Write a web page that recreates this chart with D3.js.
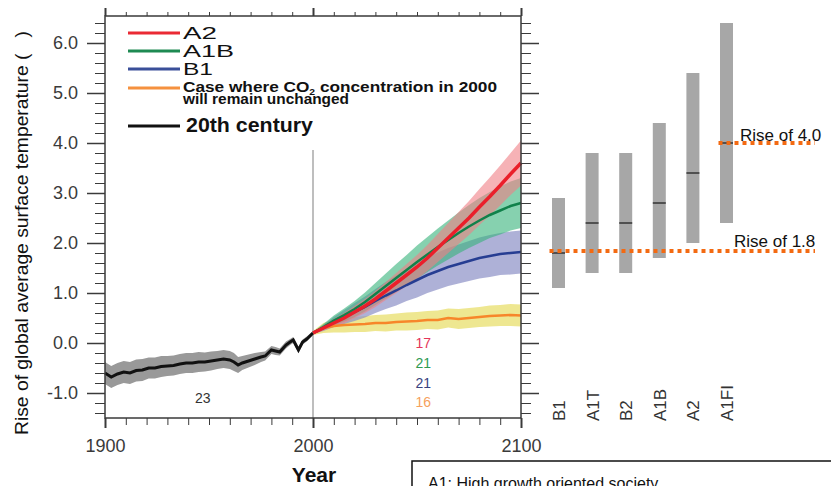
<!DOCTYPE html>
<html>
<head>
<meta charset="utf-8">
<script src="https://cdnjs.cloudflare.com/ajax/libs/d3/7.8.5/d3.min.js"></script>
<style>
  body { margin: 0; background: #fff; }
  svg { display: block; }
  text { font-family: "Liberation Sans", Arial, sans-serif; }
</style>
</head>
<body>
<div id="chart"></div>
<script>
// ---- data ----
var histYears  = [1900,1903,1906,1909,1912,1915,1918,1921,1924,1927,1930,1933,1936,1939,1942,1945,1948,1951,1954,1957,1960,1962,1964,1966,1969,1972,1975,1977,1980,1982,1984,1987,1989,1990.5,1992,1993,1995,1997,2000];
var histMean   = [-0.6,-0.68,-0.62,-0.58,-0.6,-0.55,-0.54,-0.5,-0.5,-0.47,-0.46,-0.45,-0.42,-0.4,-0.4,-0.38,-0.38,-0.36,-0.34,-0.32,-0.34,-0.38,-0.44,-0.4,-0.36,-0.32,-0.28,-0.26,-0.14,-0.16,-0.18,-0.04,0.02,0.06,-0.06,-0.14,0.02,0.08,0.2];
var histSpread = [0.22,0.22,0.22,0.22,0.22,0.22,0.22,0.21,0.21,0.21,0.2,0.2,0.2,0.2,0.2,0.2,0.19,0.19,0.18,0.18,0.18,0.18,0.16,0.14,0.13,0.12,0.1,0.09,0.08,0.08,0.07,0.07,0.06,0.06,0.06,0.06,0.05,0.05,0.04];

var projYears  = [2000,2005,2010,2015,2020,2025,2030,2035,2040,2045,2050,2055,2060,2065,2070,2075,2080,2085,2090,2095,2100];
var a2Mean     = [0.2,0.3,0.4,0.5,0.62,0.74,0.88,1.04,1.2,1.36,1.52,1.7,1.9,2.1,2.3,2.5,2.72,2.93,3.15,3.38,3.6];
var a2Spread   = [0.02,0.05,0.08,0.1,0.12,0.14,0.16,0.18,0.2,0.22,0.24,0.26,0.28,0.3,0.32,0.34,0.36,0.38,0.4,0.42,0.45];
var a1bMean    = [0.2,0.32,0.45,0.56,0.68,0.82,0.98,1.14,1.3,1.46,1.62,1.77,1.92,2.06,2.2,2.33,2.45,2.56,2.65,2.74,2.8];
var a1bSpread  = [0.02,0.06,0.1,0.13,0.16,0.19,0.22,0.25,0.28,0.3,0.33,0.35,0.37,0.39,0.41,0.43,0.45,0.46,0.48,0.49,0.5];
var b1Mean     = [0.2,0.3,0.42,0.52,0.62,0.72,0.84,0.95,1.05,1.16,1.26,1.36,1.44,1.52,1.58,1.64,1.7,1.74,1.78,1.8,1.82];
var b1Spread   = [0.02,0.06,0.1,0.14,0.18,0.21,0.24,0.27,0.3,0.32,0.35,0.36,0.37,0.38,0.39,0.4,0.41,0.42,0.42,0.43,0.43];
var constMean  = [0.2,0.3,0.34,0.36,0.37,0.38,0.4,0.4,0.42,0.43,0.44,0.46,0.46,0.5,0.48,0.5,0.52,0.54,0.55,0.56,0.55];
var constSpread= [0.04,0.1,0.13,0.15,0.15,0.16,0.16,0.17,0.17,0.18,0.18,0.18,0.19,0.19,0.2,0.2,0.2,0.21,0.21,0.22,0.22];

var modelCounts = ["17","21","21","16"];
var histCount = "23";

var scenarios  = ["B1","A1T","B2","A1B","A2","A1FI"];
var scenLow    = [1.1,1.4,1.4,1.7,2.0,2.4];
var scenHigh   = [2.9,3.8,3.8,4.4,5.4,6.4];
var scenBest   = [1.8,2.4,2.4,2.8,3.4,4.0];

var yMajor = [-1,0,1,2,3,4,5,6];
var yMinor = d3.range(-14, 65, 2).map(function(v){ return v/10; });
var xMajor = [1900,2000,2100];
var xMinor = d3.range(1900, 2101, 10);

// ---- setup ----
var W = 831, H = 486;
var svg = d3.select("#chart").append("svg").attr("width", W).attr("height", H);

var x = d3.scaleLinear().domain([1900, 2100]).range([105, 521]);
var y = d3.scaleLinear().domain([-1.5, 6.54]).range([418, 16]);
var xs = d3.scalePoint().domain(scenarios).range([558.5, 726.5]);

var axisColor = "#3a3a3a";

function styleAxis(g, w) {
  g.select(".domain").remove();
  g.selectAll(".tick line").attr("stroke", axisColor).attr("stroke-width", w);
  g.selectAll(".tick text").attr("fill", "#3a3a3a").style("font-size", "18px")
    .style("font-family", "'Liberation Sans', Arial, sans-serif");
}

// ---- bands ----
function band(years, mean, spread) {
  return d3.area()
    .x(function(d, i){ return x(years[i]); })
    .y0(function(d, i){ return y(mean[i] - spread[i]); })
    .y1(function(d, i){ return y(mean[i] + spread[i]); })(mean);
}
function line(years, mean) {
  return d3.line()
    .x(function(d, i){ return x(years[i]); })
    .y(function(d){ return y(d); })(mean);
}

svg.append("path").attr("d", band(histYears, histMean, histSpread)).attr("fill", "#999999");
svg.append("path").attr("d", band(projYears, constMean, constSpread)).attr("fill", "#e8df6c").attr("opacity", 0.75);
svg.append("path").attr("d", band(projYears, b1Mean, b1Spread)).attr("fill", "#8c90c6").attr("opacity", 0.7);
svg.append("path").attr("d", band(projYears, a1bMean, a1bSpread)).attr("fill", "#35b37a").attr("opacity", 0.6);
svg.append("path").attr("d", band(projYears, a2Mean, a2Spread)).attr("fill", "#f07f86").attr("opacity", 0.6);

// 2000 divider
svg.append("line")
  .attr("x1", x(2000)).attr("x2", x(2000))
  .attr("y1", 150).attr("y2", y(-1.5))
  .attr("stroke", "#a8a8a8").attr("stroke-width", 1.5);

// lines
svg.append("path").attr("d", line(histYears, histMean)).attr("fill", "none").attr("stroke", "#111").attr("stroke-width", 3);
svg.append("path").attr("d", line(projYears, constMean)).attr("fill", "none").attr("stroke", "#f7862a").attr("stroke-width", 2.5);
svg.append("path").attr("d", line(projYears, b1Mean)).attr("fill", "none").attr("stroke", "#263d92").attr("stroke-width", 2.5);
svg.append("path").attr("d", line(projYears, a1bMean)).attr("fill", "none").attr("stroke", "#10814a").attr("stroke-width", 2.5);
svg.append("path").attr("d", line(projYears, a2Mean)).attr("fill", "none").attr("stroke", "#ea1f2a").attr("stroke-width", 3.5);

// ---- frame & axes ----
svg.append("rect")
  .attr("x", x(1900)).attr("y", y(6.54))
  .attr("width", x(2100) - x(1900)).attr("height", y(-1.5) - y(6.54))
  .attr("fill", "none").attr("stroke", axisColor).attr("stroke-width", 1.5);

svg.append("g").attr("transform", "translate(" + x(1900) + ",0)")
  .call(d3.axisLeft(y).tickValues(yMinor).tickSize(10).tickFormat(""))
  .call(styleAxis, 1);
svg.append("g").attr("transform", "translate(" + x(1900) + ",0)")
  .call(d3.axisLeft(y).tickValues(yMajor).tickSize(18).tickPadding(9).tickFormat(function(d){ return d.toFixed(1); }))
  .call(styleAxis, 1.5);
svg.append("g").attr("transform", "translate(" + x(2100) + ",0)")
  .call(d3.axisRight(y).tickValues(yMinor).tickSize(10).tickFormat(""))
  .call(styleAxis, 1);
svg.append("g").attr("transform", "translate(" + x(2100) + ",0)")
  .call(d3.axisRight(y).tickValues(yMajor).tickSize(18).tickFormat(""))
  .call(styleAxis, 1.5);

svg.append("g").attr("transform", "translate(0," + y(-1.5) + ")")
  .call(d3.axisBottom(x).tickValues(xMinor).tickSize(7).tickFormat(""))
  .call(styleAxis, 1);
svg.append("g").attr("transform", "translate(0," + y(-1.5) + ")")
  .call(d3.axisBottom(x).tickValues(xMajor).tickSize(10).tickPadding(11).tickFormat(d3.format("d")))
  .call(styleAxis, 2);
svg.append("g").attr("transform", "translate(0," + y(6.54) + ")")
  .call(d3.axisTop(x).tickValues(xMinor).tickSize(4).tickFormat(""))
  .call(styleAxis, 1);
svg.append("g").attr("transform", "translate(0," + y(6.54) + ")")
  .call(d3.axisTop(x).tickValues(xMajor).tickSize(8).tickFormat(""))
  .call(styleAxis, 2);

// axis titles
svg.append("text")
  .attr("transform", "translate(28,233) rotate(-90)")
  .attr("text-anchor", "middle")
  .attr("textLength", 404).attr("lengthAdjust", "spacingAndGlyphs")
  .style("font-size", "18px").attr("fill", "#111")
  .text("Rise of global average surface temperature (\u00a0\u00a0\u00a0)");

svg.append("text")
  .attr("x", x(2000) + 1).attr("y", 482)
  .attr("text-anchor", "middle")
  .style("font-size", "21px").style("font-weight", "bold").attr("fill", "#111")
  .text("Year");

// model counts
var countColors = ["#e5365a", "#2e9a52", "#39437f", "#f6a15d"];
var countYs = [343, 363, 383, 402];
modelCounts.forEach(function(c, i) {
  svg.append("text").attr("x", x(2053)).attr("y", countYs[i]).attr("dy", "0.35em")
    .attr("text-anchor", "middle").style("font-size", "14px").attr("fill", countColors[i]).text(c);
});
svg.append("text").attr("x", x(1947)).attr("y", 398).attr("dy", "0.35em")
  .attr("text-anchor", "middle").style("font-size", "14px").attr("fill", "#333").text(histCount);

// ---- legend ----
var legendItems = [
  {label: "A2",  color: "#ea2a34", y: 33, len: 34},
  {label: "A1B", color: "#1e8a52", y: 51, len: 51},
  {label: "B1",  color: "#3a4f99", y: 69, len: 30}
];
legendItems.forEach(function(d) {
  svg.append("line").attr("x1", 128).attr("x2", 180).attr("y1", d.y).attr("y2", d.y)
    .attr("stroke", d.color).attr("stroke-width", 3);
  svg.append("text").attr("x", 183).attr("y", d.y + 6)
    .attr("textLength", d.len).attr("lengthAdjust", "spacingAndGlyphs")
    .style("font-size", "16px").attr("fill", "#111").text(d.label);
});
svg.append("line").attr("x1", 128).attr("x2", 180).attr("y1", 88).attr("y2", 88)
  .attr("stroke", "#f5913f").attr("stroke-width", 3);
var caseText = svg.append("text").attr("x", 183).attr("y", 92)
  .attr("textLength", 314).attr("lengthAdjust", "spacingAndGlyphs")
  .style("font-size", "15px").style("font-weight", "bold").attr("fill", "#111");
caseText.append("tspan").text("Case where CO");
caseText.append("tspan").attr("dy", 3).style("font-size", "9px").text("2");
caseText.append("tspan").attr("dy", -3).text(" concentration in 2000");
svg.append("text").attr("x", 183).attr("y", 104)
  .attr("textLength", 166).attr("lengthAdjust", "spacingAndGlyphs")
  .style("font-size", "15px").style("font-weight", "bold").attr("fill", "#111")
  .text("will remain unchanged");
svg.append("line").attr("x1", 128).attr("x2", 180).attr("y1", 126).attr("y2", 126)
  .attr("stroke", "#111").attr("stroke-width", 3);
svg.append("text").attr("x", 186).attr("y", 132)
  .attr("textLength", 127).attr("lengthAdjust", "spacingAndGlyphs")
  .style("font-size", "21px").style("font-weight", "bold").attr("fill", "#111")
  .text("20th century");

// ---- scenario range bars ----
var bw = 13;
scenarios.forEach(function(s, i) {
  svg.append("rect")
    .attr("x", xs(s) - bw/2).attr("width", bw)
    .attr("y", y(scenHigh[i])).attr("height", y(scenLow[i]) - y(scenHigh[i]))
    .attr("fill", "#a7a7a7");
  svg.append("line")
    .attr("x1", xs(s) - bw/2).attr("x2", xs(s) + bw/2)
    .attr("y1", y(scenBest[i])).attr("y2", y(scenBest[i]))
    .attr("stroke", "#333").attr("stroke-width", 1.5);
  svg.append("text")
    .attr("transform", "translate(" + (xs(s) + 0.5) + ",421) rotate(-90)")
    .attr("dy", "0.35em")
    .style("font-size", "17px").attr("fill", "#333").text(s);
});

// reference dotted lines
var refOrange = "#f36a12";
svg.append("line")
  .attr("x1", xs("B1") - 9).attr("x2", 815)
  .attr("y1", y(1.8) - 2).attr("y2", y(1.8) - 2)
  .attr("stroke", refOrange).attr("stroke-width", 4).attr("stroke-dasharray", "4,4");
svg.append("line")
  .attr("x1", xs("A1FI") - 8).attr("x2", 815)
  .attr("y1", y(4.0)).attr("y2", y(4.0))
  .attr("stroke", refOrange).attr("stroke-width", 4).attr("stroke-dasharray", "4,4");
svg.append("text").attr("x", 734).attr("y", 247)
  .style("font-size", "17px").attr("fill", "#111").text("Rise of 1.8");
svg.append("text").attr("x", 740).attr("y", 141)
  .style("font-size", "17px").attr("fill", "#111").text("Rise of 4.0");

// ---- note box ----
svg.append("rect")
  .attr("x", 412).attr("y", 461).attr("width", 440).attr("height", 60)
  .attr("fill", "#fff").attr("stroke", "#111").attr("stroke-width", 1.5);
svg.append("text").attr("x", 428).attr("y", 489)
  .style("font-size", "16px").attr("fill", "#111")
  .text("A1: High growth oriented society");
</script>
</body>
</html>
